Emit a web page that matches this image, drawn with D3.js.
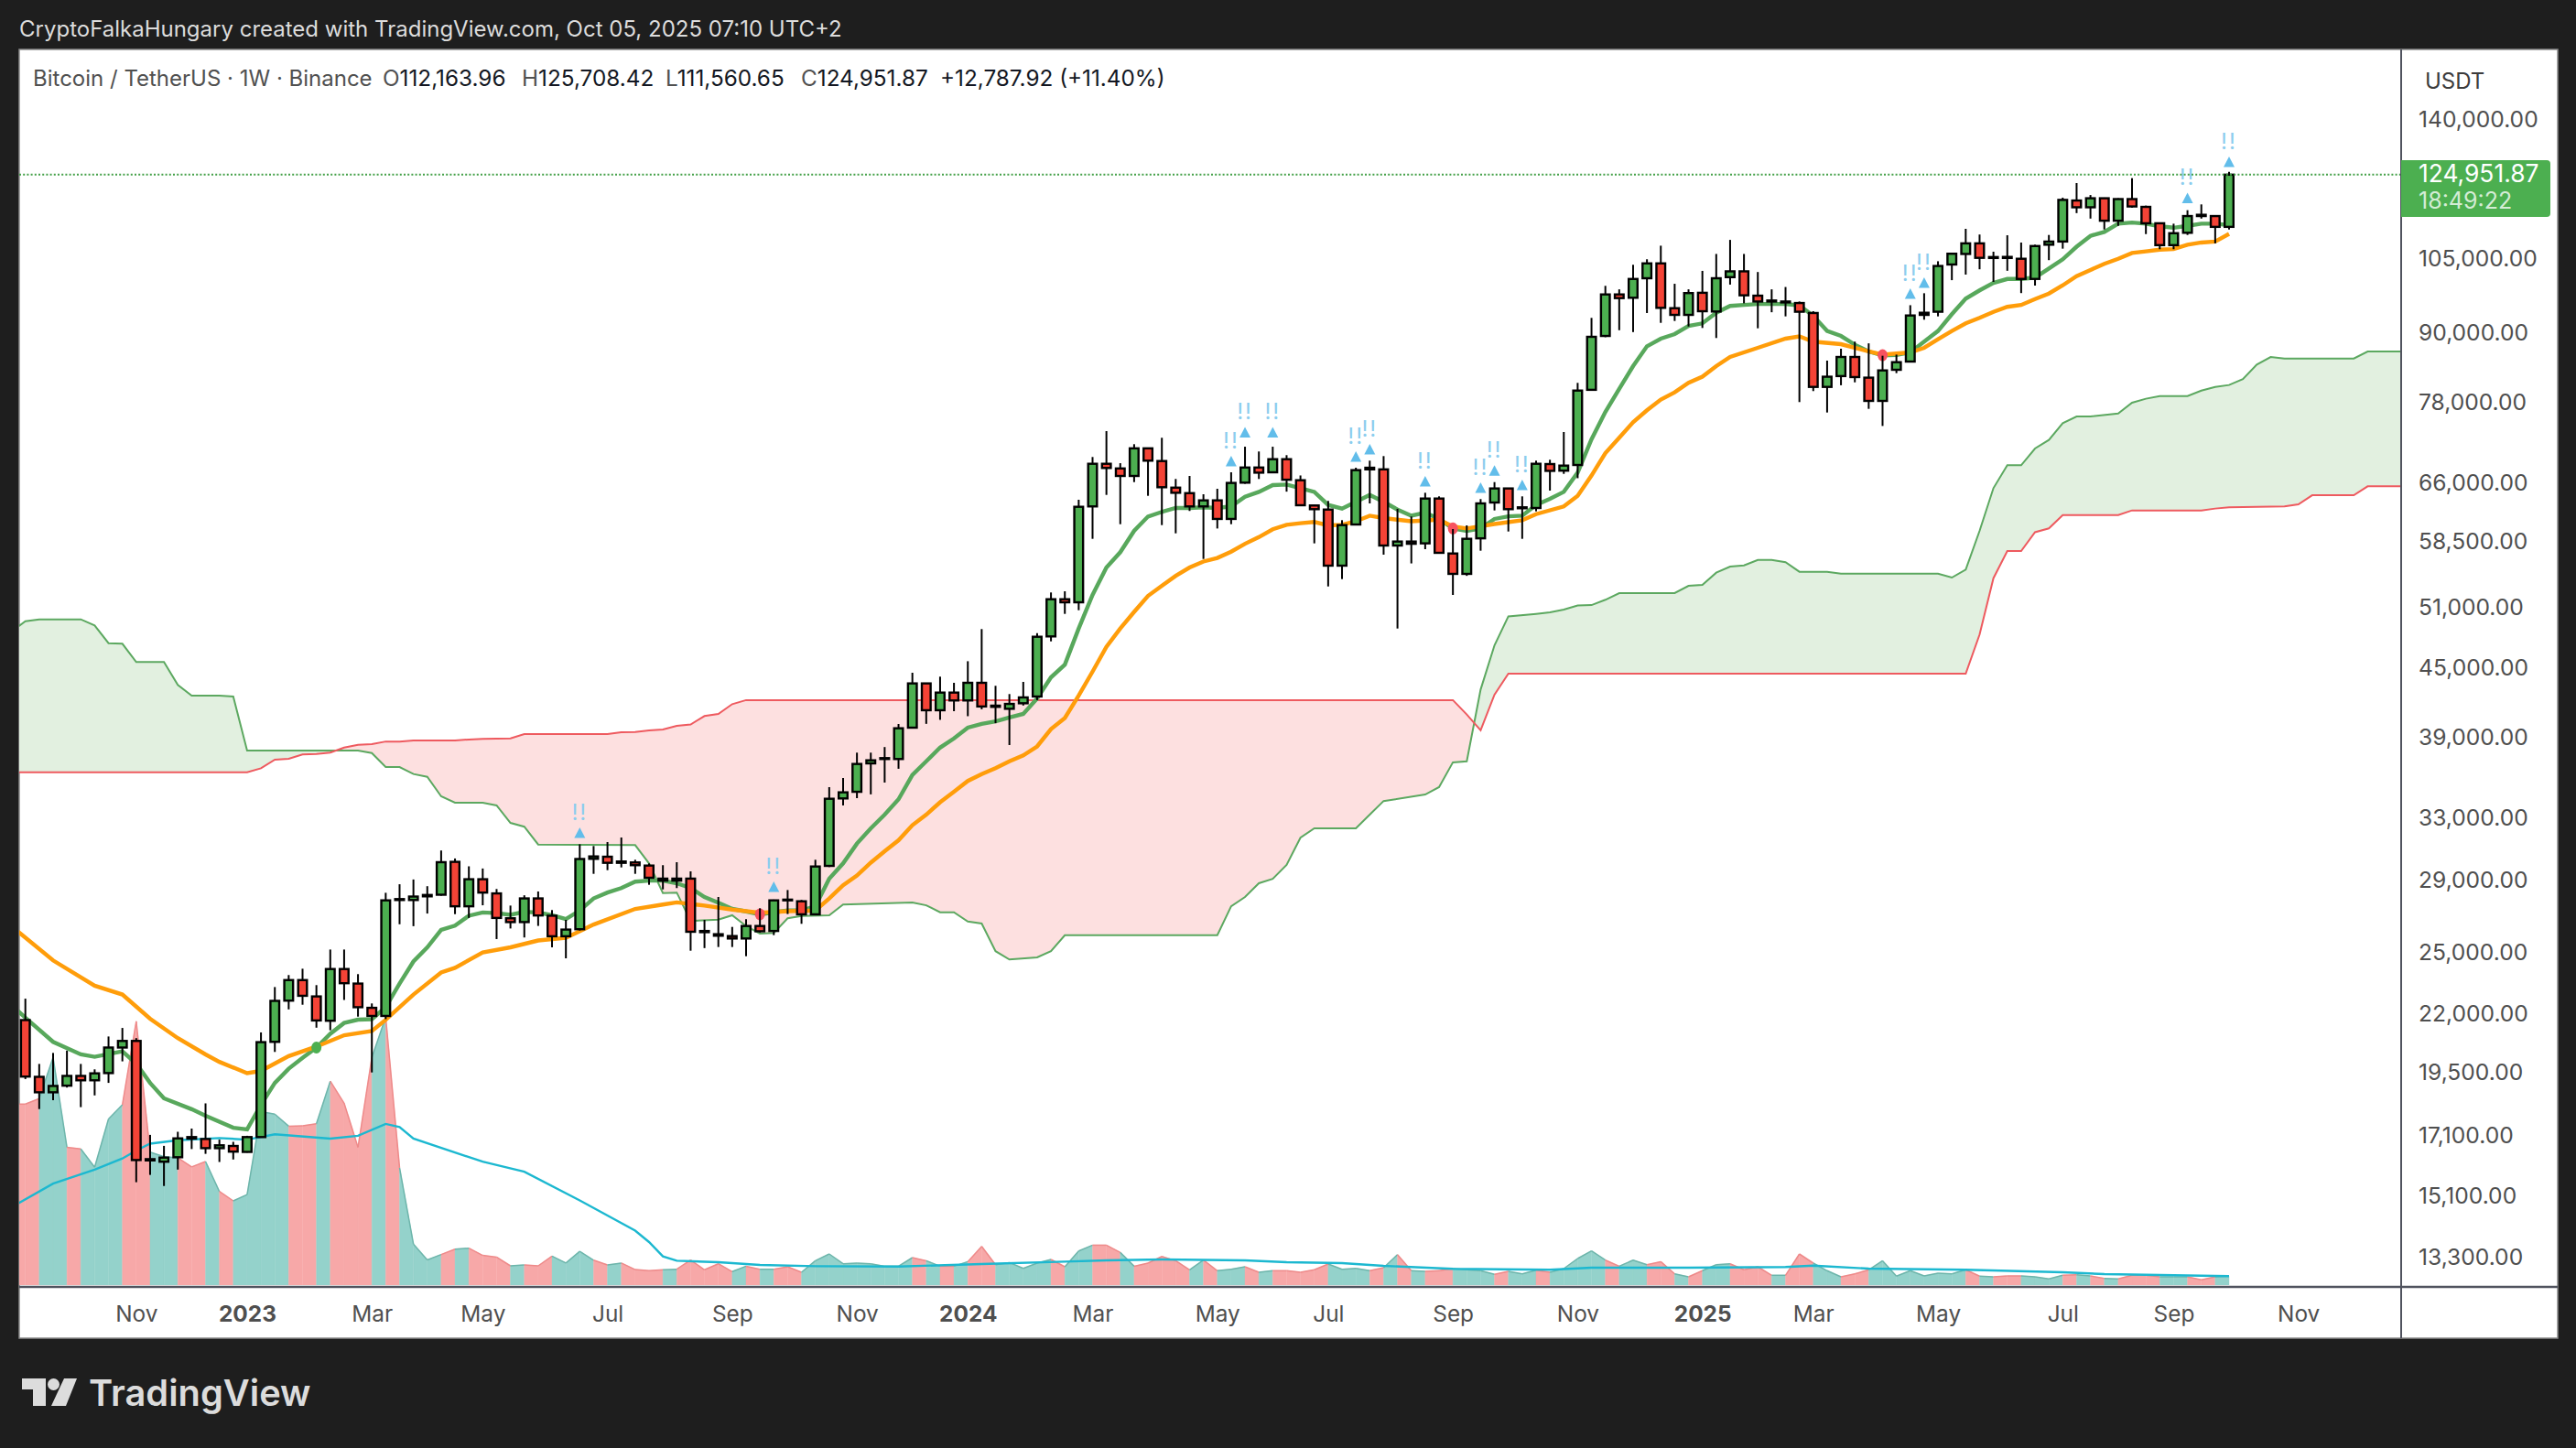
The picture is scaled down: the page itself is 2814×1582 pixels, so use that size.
<!DOCTYPE html>
<html>
<head>
<meta charset="utf-8">
<script src="https://cdn.jsdelivr.net/npm/d3@7"></script>
<style>
  html, body { margin: 0; padding: 0; background: #1e1e1e; }
  svg { display: block; font-family: Inter, "Noto Sans", sans-serif; }
</style>
</head>
<body>
<svg id="chart" width="2814" height="1582"></svg>
<script>
// BTCUSDT weekly candles, oldest first
const opens = [21729,19322,18714,18973,19359,19184,19473,20530,20812,16296,16210,16361,17058,16990,16671,16747,16542,17058,20773,22622,
  23605,22820,21700,24151,23435,22288,21917,27911,27858,28070,28165,30147,27499,29082,28241,26825,26615,27950,26967,25846,
  26225,30337,30469,30087,30110,29916,29119,29000,29119,26130,25955,25855,25726,26400,26130,27880,27785,27045,29897,34375,
  34850,36960,37295,37295,39795,43610,41256,42790,42100,43665,41650,41380,41855,42445,48065,51908,51580,62900,68700,68040,
  66990,70930,69090,65390,64650,62900,63690,61290,66070,68170,67500,69355,66400,63020,62490,55644,60590,67910,67910,58010,
  58490,58270,63930,57060,54705,58880,63410,65280,62660,62695,68660,67730,68530,80060,89500,97526,96860,100850,104000,94790,
  93490,97860,94140,101080,102300,97280,96310,95930,95810,93850,80546,82370,85690,82100,78245,83450,84880,93490,94100,103760,
  106050,108400,105170,105400,105000,100710,108100,108810,118450,116800,119000,113600,118800,116900,113000,108000,110800,115000,114700,112163.96];
const highs = [22714,19845,20302,20398,19845,19624,21005,21379,20934,17136,16751,17246,17361,18290,16968,16891,17103,21182,23267,23852,
  24166,23360,25145,25145,23897,22491,28278,28782,29067,28666,30864,30359,29870,29735,28500,27540,28132,28355,27285,26737,
  31265,31151,31406,31706,30277,30047,29940,30126,29560,26737,28034,26350,26775,27385,27880,28440,27858,30277,35187,35860,
  37790,37790,38230,40097,44585,43610,44225,43665,45660,48800,43395,42660,43750,48390,52640,52770,63771,69670,73505,68785,
  71540,70930,72498,66574,66990,64500,65240,67500,71170,70470,71170,69935,67060,63090,63617,61134,68140,69145,69800,62585,
  61600,64700,64220,60020,60480,63860,66145,65320,64220,69145,69275,73367,81220,92910,99277,98560,103700,104890,107880,99700,
  98560,102400,106050,109180,106050,102160,98560,99040,96110,94200,85050,87166,88450,88140,85910,86110,95380,97770,104460,106300,
  111709,110400,106540,110230,108580,108100,110300,119150,122805,119800,119150,119000,124060,117200,113200,112900,116100,117500,114830,125708.42];
const lows = [19234,18076,18411,18899,18148,18594,19082,19951,15537,15774,15416,15948,16640,16476,16201,16284,16520,17040,20344,22216,
  22431,21390,21277,22654,21885,19499,21773,26495,26391,27089,28110,27056,26844,27556,25696,26265,25780,26405,25261,24692,
  26155,29409,29633,29802,29409,28750,28478,28555,25084,25220,25276,25276,24800,26045,25905,27060,26520,27030,29824,33880,
  34395,34665,35523,36550,39755,40110,40445,41175,40750,41340,40165,38390,41660,42130,47576,50359,50743,58820,64416,60628,
  66145,64295,60513,59492,62310,56418,60090,60628,65920,66574,67450,64850,62970,58270,53300,54118,60513,63292,56924,48856,
  55900,57574,57100,52372,54480,57390,62380,59718,58820,62262,64990,67280,66680,79935,89270,90570,90220,93850,91960,92320,
  91270,90990,89120,99530,95750,90930,94000,93200,78055,79850,76390,80820,81310,76970,74290,82870,84770,92560,93200,100450,
  101617,102740,100089,102420,97800,99330,104700,107220,115400,114100,111560,112400,116700,110500,107100,107100,110300,114100,108400,111560.65];
const closes = [19333,18714,18961,19359,19184,19462,20530,20812,16266,16254,16349,17012,17004,16671,16770,16552,17058,20760,22611,23605,
  22850,21713,24151,23453,22317,21917,27838,27858,28058,28150,30126,27499,29082,28290,26844,26615,27950,26982,25846,26205,
  30325,30487,30087,30170,29940,29172,29000,29119,26087,26065,25875,25726,26400,26113,27838,27838,27045,29858,34351,34810,
  36915,37195,37364,39745,43610,41256,42790,42100,43665,41580,41545,41800,42365,48030,51908,51580,62850,68700,68105,66990,
  70930,69145,65446,64700,62900,63690,61290,66030,68170,67450,69355,66470,63052,62540,55644,60513,67800,68140,58010,58490,
  58220,63930,57140,54705,58820,63292,65280,62540,62780,68700,67700,68440,79935,89340,97526,96790,100700,104000,94860,93490,
  97800,94200,100850,102300,97350,96110,96110,96110,94100,80546,82260,85690,82200,78245,83340,84770,93370,93900,103440,106100,
  108400,105200,105370,105170,100710,107800,108800,118600,116800,119000,113600,118800,117000,113000,108000,110700,114700,114700,112163.96,124951.87];
// volume in thousands, only ever shown as a shape
const volumes = [1977,2038,2487,1505,1488,1288,1815,1970,2882,1453,1402,1391,1291,1350,1023,920,989,1894,1867,1736,
  1739,1763,2228,1987,1505,2487,2927,1281,448,275,334,393,403,324,306,210,220,210,317,241,
  369,272,220,241,169,157,167,173,273,167,233,147,206,173,173,200,140,266,340,233,
  240,233,206,206,300,266,206,206,256,423,223,246,183,240,280,200,373,436,436,356,
  206,240,313,266,167,273,157,173,200,140,157,157,140,167,230,173,183,157,190,333,
  157,150,157,180,167,157,117,150,123,163,140,180,290,373,273,206,273,223,256,123,
  90,157,223,233,167,200,107,107,340,240,157,90,123,167,266,97,157,100,130,123,
  167,97,90,100,100,90,67,107,113,100,73,67,107,107,90,90,90,57,90,97];
const volMaWeek = [-1,2,5,7,8,9,11,14,16,18,22,24,26,27,28,33,36,40,44,45,46,47,50,53,57,63,69,75,78,82,88,91,95,98,103,110,113,120,127,129,133,140,147,150,153,159];
const volMa = [850,1108,1262,1383,1470,1545,1582,1606,1589,1648,1600,1631,1761,1727,1600,1348,1238,925,595,470,313,266,250,220,206,203,230,256,270,280,270,250,240,210,177,167,190,190,197,213,180,167,140,120,113,97];

// fast moving average (green)
const fastWeek = [-1,0,2,4,5,7,8,9,10,12,13,15,16,17,18,19,20,21,22,23,24,25,26,27,28,29,30,31,32,33,34,35,36,37,38,39,40,41,42,43,44,45,46,47,48,49,50,51,52,53,54,55,56,57,58,59,60,61,62,63,64,65,66,67,68,69,70,71,72,73,74,75,76,77,78,79,80,81,82,83,84,85,86,87,88,89,90,91,92,93,94,95,96,97,98,99,100,101,102,103,104,105,106,107,108,109,110,111,112,113,114,115,116,117,118,119,120,121,122,123,124,125,127,128,129,130,131,132,133,134,135,136,137,138,139,140,141,142,143,144,145,146,147,148,149,150,151,152,153,154,155,156,157,158,159];
const fastMa = [22420,21840,20773,20240,20140,20370,19860,19080,18481,18070,17830,17390,17330,18235,19082,19650,20100,20530,21120,21600,21750,21770,22320,23435,24530,25260,26190,26420,26967,27150,27110,27020,27180,27150,26992,26780,27260,27950,28290,28555,28940,29000,29000,28840,28555,28034,27700,27350,27210,27045,27160,27260,27260,27500,29119,30050,31310,32310,33240,34310,36090,37120,38185,38920,39795,40110,40310,40650,40943,42270,44160,45340,48856,52372,55430,57215,59798,61600,62190,62700,62700,62780,62700,62900,64175,64820,65735,65810,65325,64820,63090,62610,63500,64416,63500,62490,61700,62100,61290,60100,59798,60100,61290,61620,61700,63090,63890,64820,67450,72265,76489,80200,84085,87610,89000,89848,91390,91860,93900,95230,95430,95620,95620,95325,93310,90430,89500,87880,86670,85970,86060,86500,88450,90430,93620,96680,98350,99880,100700,100700,100990,102910,104890,107650,110100,111000,112900,113170,112900,112280,111960,112400,112900,112900,112570];
// slow moving average (orange)
const slowWeek = [-1,2,5,7,9,11,13,14,16,17,19,21,23,25,26,28,30,31,33,35,37,39,41,44,46,47,49,51,53,55,57,58,59,60,61,62,63,64,65,66,67,68,69,70,71,72,73,74,75,76,77,78,79,80,81,82,83,84,85,86,87,88,89,90,91,92,93,94,95,96,97,98,100,102,103,104,106,108,109,111,112,113,114,115,116,117,118,119,120,121,122,123,125,127,128,129,131,133,134,136,137,138,139,140,141,142,143,144,145,146,147,148,149,150,151,152,153,154,155,156,157,158,159];
const slowMa = [26385,24585,23330,22909,21790,20934,20240,19930,19470,19560,20170,20570,21060,21240,21745,22909,23980,24210,24990,25260,25620,25760,26480,27350,27600,27720,27540,27310,27130,27220,27260,27950,28720,29300,30100,30818,31520,32520,33240,34100,34850,35640,36150,36590,37120,37570,38280,39670,40600,42525,44690,47040,48856,50570,52270,53370,54480,55430,56120,56540,57280,58220,59030,59990,60550,60750,60900,60480,60550,61000,61700,61400,61000,61200,60340,60100,60650,61134,61900,62900,64295,67050,70240,72500,74870,76730,78470,79650,81220,82260,84085,85690,87330,89000,89420,88450,87990,86700,86110,86500,87330,88880,90430,91860,92910,94080,95050,95430,96610,97710,99380,101290,102600,103900,105000,106270,106630,106990,107120,108090,108590,108810,110550];

// cloud boundaries (they run 26 weeks past the last candle)
const spanAWeek = [-1,0,1,4,5,6,7,8,10,11,12,14,15,16,24,25,26,27,28,29,30,31,33,34,35,36,37,44,45,46,47,48,50,51,52,53,54,55,56,58,59,64,65,66,67,68,69,70,71,73,74,75,86,87,88,89,90,91,92,93,96,97,98,101,102,103,104,105,106,107,109,110,111,112,113,114,115,119,120,121,122,123,124,125,126,127,128,130,131,138,139,140,141,142,143,144,145,146,147,148,149,151,152,153,154,156,157,158,159,160,161,162,163,168,169,172];
const spanA = [48550,49600,49790,49790,49170,47400,47345,45584,45584,43475,42525,42525,42445,37955,37955,37760,36682,36682,36155,35950,34527,34073,34073,33880,32680,32420,31246,31210,30050,28260,28290,26680,26750,26992,26400,25985,26020,26825,26957,26992,27598,27720,27555,27160,27160,26650,26535,25060,24630,24740,25060,25900,25900,27500,28030,28841,29110,29955,31690,32310,32310,33240,34190,34650,35190,37040,37120,43060,47190,50100,50360,50520,50800,51250,51280,51850,52570,52570,53370,53470,54838,55540,55677,56310,56310,56035,54942,54942,54736,54736,54290,55195,59798,65325,68493,68493,70907,72170,74727,75769,75769,76240,77950,78600,79030,79030,79935,80545,80860,81850,84355,85690,85410,85410,86670,86670];
const spanBWeek = [-1,16,17,18,19,20,21,22,23,24,25,26,27,28,31,32,33,35,36,42,43,44,45,46,47,48,49,50,51,52,103,104,105,106,107,140,141,142,143,144,145,146,147,151,152,157,158,159,163,164,165,168,169,172];
const spanB = [36283,36283,36590,37250,37320,37650,37680,37800,38185,38410,38460,38670,38670,38760,38760,38830,38880,38920,39270,39270,39421,39440,39570,39650,39950,40060,40765,40943,41780,42130,42130,40890,39580,42610,44495,44495,48255,54220,57355,57355,59630,60100,61780,61780,62380,62380,62620,62780,62900,63170,64370,64370,65570,65570];

// moving average cross dots
const crossWeek = [21,53,103,134];
const crossPrice = [20530,27045,60100,86000];
const crossUp = [true,false,false,false];

// "!!" alerts above the candles
const alertWeek = [40,54,87,88,90,96,97,101,105,106,108,136,137,156,159];
const alertPrice = [32008,28623,69050,73310,73310,69710,70770,66230,65350,67730,65730,97650,99880,119050,128270];

const priceTicks = [140000,105000,90000,78000,66000,58500,51000,45000,39000,33000,29000,25000,22000,19500,17100,15100,13300];
const timeTickWeek = [8,16,25,33,42,51,60,68,77,86,94,103,112,121,129,138,147,155,164];
const timeTickLabel = ["Nov","2023","Mar","May","Jul","Sep","Nov","2024","Mar","May","Jul","Sep","Nov","2025","Mar","May","Jul","Sep","Nov"];
const lastPrice = 124951.87;

const up = "#4caf50", down = "#f44336";
const plotLeft = 21, plotRight = 2623, plotTop = 54, axisY = 1406, plotBottom = 1462, frameRight = 2794;

const x = d3.scaleLinear().domain([0, 159]).range([27.7, 2435]);
const y = d3.scaleLog().domain([13300, 140000]).range([1373.7, 130.8]);
const yVol = d3.scaleLinear().domain([0, 4000]).range([1404, 1004]);

const svg = d3.select("#chart");
svg.append("rect").attr("width", 2814).attr("height", 1582).attr("fill", "#1e1e1e");
svg.append("rect").attr("x", plotLeft).attr("y", plotTop).attr("width", frameRight - plotLeft).attr("height", plotBottom - plotTop)
  .attr("fill", "#fff").attr("stroke", "#8a8a8a").attr("stroke-width", 1.5);

const defs = svg.append("defs");
defs.append("clipPath").attr("id", "plot").append("rect")
  .attr("x", plotLeft).attr("y", plotTop).attr("width", plotRight - plotLeft).attr("height", axisY - plotTop - 2);

const pairs = (weeks, vals) => weeks.map((w, i) => [w, vals[i]]);
const a = pairs(spanAWeek, spanA), b = pairs(spanBWeek, spanB);
const lineFn = d3.line().x(d => x(d[0])).y(d => y(d[1]));

// cloud: green where span A is above span B, red where it is below
const areaAbove = d3.area().x(d => x(d[0])).y0(plotTop).y1(d => y(d[1]));
const areaBelow = d3.area().x(d => x(d[0])).y0(plotBottom).y1(d => y(d[1]));
defs.append("clipPath").attr("id", "aboveB").append("path").attr("d", areaAbove(b));
defs.append("clipPath").attr("id", "belowB").append("path").attr("d", areaBelow(b));

const plot = svg.append("g").attr("clip-path", "url(#plot)");
plot.append("g").attr("clip-path", "url(#aboveB)").append("path").attr("d", areaBelow(a)).attr("fill", "#e2f0e0");
plot.append("g").attr("clip-path", "url(#belowB)").append("path").attr("d", areaAbove(a)).attr("fill", "#fde0e0");
plot.append("path").attr("d", lineFn(a)).attr("fill", "none").attr("stroke", "#5ca860").attr("stroke-width", 2);
plot.append("path").attr("d", lineFn(b)).attr("fill", "none").attr("stroke", "#ee5a5f").attr("stroke-width", 2);

// volume area, each segment coloured by its candle
const isUp = i => closes[i] >= opens[i];
const volSeg = volumes.map((v, i) => {
  const prev = i === 0 ? [-1, v] : [i - 1, volumes[i - 1]];
  return {i, pts: [prev, [i, v]]};
});
const volArea = d3.area().x(d => x(d[0])).y0(yVol(0)).y1(d => yVol(d[1]));
const volLine = d3.line().x(d => x(d[0])).y(d => yVol(d[1]));
plot.append("g").selectAll("path").data(volSeg).join("path")
  .attr("d", d => volArea(d.pts))
  .attr("fill", d => isUp(d.i) ? "#94d2cb" : "#f7a8a8")
  .attr("stroke", d => isUp(d.i) ? "#94d2cb" : "#f7a8a8").attr("stroke-width", 0.4);
plot.append("g").selectAll("path").data(volSeg).join("path")
  .attr("d", d => volLine(d.pts))
  .attr("fill", "none")
  .attr("stroke", d => isUp(d.i) ? "#6db5ab" : "#ee8a8a").attr("stroke-width", 1.5);
plot.append("path").attr("d", d3.line().x(d => x(d[0])).y(d => yVol(d[1]))(pairs(volMaWeek, volMa)))
  .attr("fill", "none").attr("stroke", "#1cb8d0").attr("stroke-width", 2.4);

// moving averages
plot.append("path").attr("d", lineFn(pairs(fastWeek, fastMa))).attr("fill", "none").attr("stroke", "#58a85c").attr("stroke-width", 4.4);
plot.append("path").attr("d", lineFn(pairs(slowWeek, slowMa))).attr("fill", "none").attr("stroke", "#ff9d0a").attr("stroke-width", 4.4);

plot.append("g").selectAll("ellipse").data(crossWeek).join("ellipse")
  .attr("cx", d => x(d)).attr("cy", (d, i) => y(crossPrice[i]))
  .attr("rx", 5.5).attr("ry", 6.5)
  .attr("fill", (d, i) => crossUp[i] ? "#4caf50" : "#f7525f");

// candles
const candles = plot.append("g").selectAll("g").data(opens).join("g");
candles.append("line")
  .attr("x1", (d, i) => x(i)).attr("x2", (d, i) => x(i))
  .attr("y1", (d, i) => y(highs[i])).attr("y2", (d, i) => y(lows[i]))
  .attr("stroke", "#000").attr("stroke-width", 2);
candles.append("rect")
  .attr("x", (d, i) => x(i) - 4.8).attr("width", 9.6)
  .attr("y", (d, i) => y(Math.max(opens[i], closes[i])))
  .attr("height", (d, i) => Math.abs(y(opens[i]) - y(closes[i])))
  .attr("fill", (d, i) => isUp(i) ? up : down)
  .attr("stroke", "#000").attr("stroke-width", 2.4);

// alerts
const alerts = plot.append("g").selectAll("g").data(alertWeek).join("g")
  .attr("transform", (d, i) => `translate(${x(d)},${y(alertPrice[i])})`);
alerts.append("path").attr("d", "M0,-6 L6,5.5 L-6,5.5 Z").attr("fill", "#62bdea");
alerts.append("text").attr("y", -14).attr("text-anchor", "middle")
  .attr("font-size", 24).attr("fill", "#8ccdee").attr("letter-spacing", 2).text("!!");

// last price line
svg.append("line").attr("x1", plotLeft).attr("x2", plotRight).attr("y1", y(lastPrice)).attr("y2", y(lastPrice))
  .attr("stroke", "#43a047").attr("stroke-width", 2).attr("stroke-dasharray", "2 2.2");

// axes
const priceAxis = d3.axisRight(y).tickValues(priceTicks).tickSize(0).tickPadding(0)
  .tickFormat(d3.format(",.2f"));
const gy = svg.append("g").attr("transform", `translate(2642,0)`).call(priceAxis);
gy.select(".domain").remove();
gy.selectAll("text").attr("font-family", "Inter").attr("font-size", 24.6).attr("fill", "#4f4f4f");

const timeAxis = d3.axisBottom(x).tickValues(timeTickWeek).tickSize(0).tickPadding(0)
  .tickFormat((d, i) => timeTickLabel[i]);
const gx = svg.append("g").attr("transform", `translate(0,1427)`).call(timeAxis);
gx.select(".domain").remove();
gx.selectAll("text").attr("font-family", "Inter").attr("font-size", 24.4).attr("fill", "#4f4f4f")
  .attr("font-weight", (d, i) => /^\d/.test(timeTickLabel[i]) ? 700 : 400);

svg.append("line").attr("x1", plotLeft).attr("x2", frameRight).attr("y1", axisY).attr("y2", axisY).attr("stroke", "#50535e").attr("stroke-width", 2.4);
svg.append("line").attr("x1", plotRight).attr("x2", plotRight).attr("y1", plotTop).attr("y2", plotBottom).attr("stroke", "#50535e").attr("stroke-width", 2);

// last price tag
svg.append("path").attr("d", `M${plotRight},175 H2782 a4,4 0 0 1 4,4 V233 a4,4 0 0 1 -4,4 H${plotRight} Z`).attr("fill", "#4caf50");
svg.append("text").attr("x", 2642).attr("y", 199).attr("font-size", 26.4).attr("fill", "#fff").text(d3.format(",.2f")(lastPrice));
svg.append("text").attr("x", 2642).attr("y", 228).attr("font-size", 25).attr("fill", "#d4ecd5").text("18:49:22");
svg.append("text").attr("x", 2649).attr("y", 96.5).attr("font-size", 24).attr("fill", "#3c3c3c").text("USDT");

// header, legend and logo
svg.append("text").attr("x", 21).attr("y", 40).attr("font-size", 24).attr("fill", "#dcdcdc")
  .text("CryptoFalkaHungary created with TradingView.com, Oct 05, 2025 07:10 UTC+2");
svg.append("text").attr("x", 36).attr("y", 94).attr("font-size", 24).attr("fill", "#505050")
  .text("Bitcoin / TetherUS · 1W · Binance");
const legendX = [418, 570, 727, 875];
const legendKey = ["O", "H", "L", "C"];
const legendVal = ["112,163.96", "125,708.42", "111,560.65", "124,951.87"];
legendX.forEach((lx, i) => {
  const t = svg.append("text").attr("x", lx).attr("y", 94).attr("font-size", 24.3);
  t.append("tspan").attr("fill", "#505050").text(legendKey[i]);
  t.append("tspan").attr("fill", "#131722").text(legendVal[i]);
});
svg.append("text").attr("x", 1027).attr("y", 94).attr("font-size", 24.3).attr("fill", "#131722").text("+12,787.92 (+11.40%)");

const logo = svg.append("g").attr("fill", "#dcdcdc");
logo.append("path").attr("d", "M24,1506 H50 V1536 H36 V1518 H24 Z");
logo.append("circle").attr("cx", 58.5).attr("cy", 1512.5).attr("r", 6.5);
logo.append("path").attr("d", "M70,1506 H84 L72,1536 H56 Z");
svg.append("text").attr("x", 97).attr("y", 1536).attr("font-size", 39.8).attr("font-weight", 600).attr("fill", "#dcdcdc").text("TradingView");
</script>
</body>
</html>
